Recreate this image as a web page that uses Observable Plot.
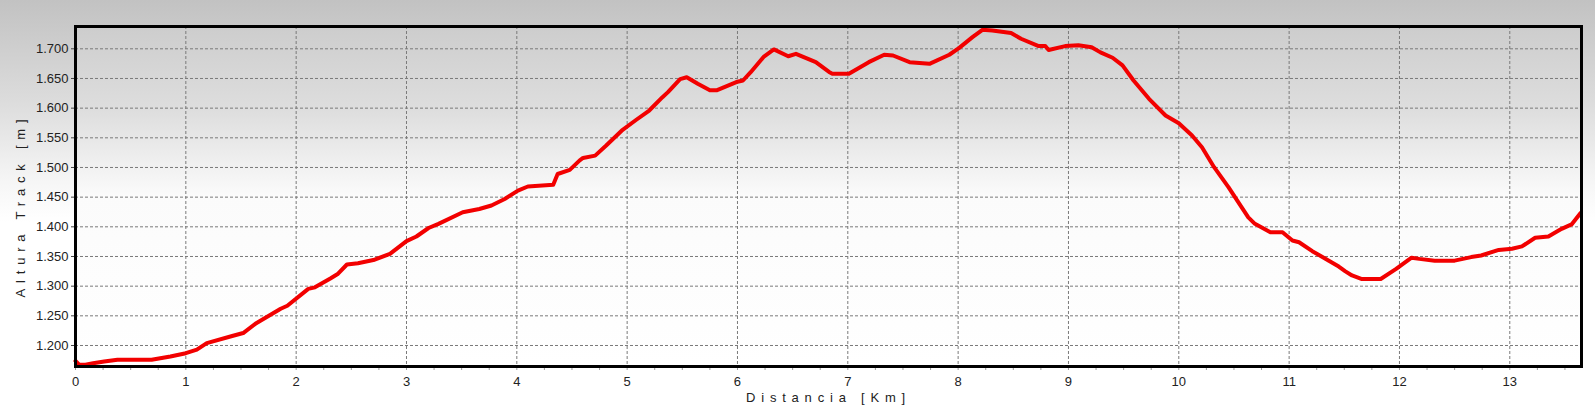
<!DOCTYPE html>
<html>
<head>
<meta charset="utf-8">
<script src="https://cdn.jsdelivr.net/npm/d3@7"></script>
<script src="https://cdn.jsdelivr.net/npm/@observablehq/plot@0.6"></script>
<style>
  html, body { margin: 0; padding: 0; }
  body {
    width: 1595px; height: 405px; overflow: hidden;
    background: linear-gradient(to bottom, #c2c2c2 0%, #dcdcdc 25%, #f6f6f6 45%, #ffffff 55%, #ffffff 100%);
  }
  #chart svg { display: block; }
</style>
</head>
<body>
<div id="chart"></div>
<script>
// Distance along the track (km)
const distKm = [0, 0.03, 0.09, 0.16, 0.26, 0.38, 0.69, 0.86, 1.00, 1.10, 1.19, 1.42, 1.52, 1.63, 1.86, 1.92,
  2.11, 2.17, 2.31, 2.38, 2.46, 2.56, 2.70, 2.85, 3.00, 3.09, 3.20, 3.29, 3.51, 3.66, 3.77, 3.89,
  4.01, 4.10, 4.33, 4.37, 4.48, 4.57, 4.60, 4.71, 4.81, 4.95, 5.08, 5.20, 5.32, 5.37, 5.48, 5.54,
  5.64, 5.75, 5.81, 5.99, 6.05, 6.12, 6.24, 6.33, 6.46, 6.53, 6.71, 6.83, 6.86, 7.01, 7.19, 7.33,
  7.41, 7.56, 7.74, 7.92, 8.01, 8.13, 8.22, 8.31, 8.48, 8.57, 8.73, 8.79, 8.82, 8.97, 9.09, 9.21,
  9.29, 9.40, 9.49, 9.59, 9.73, 9.88, 10.00, 10.12, 10.21, 10.32, 10.45, 10.53, 10.63, 10.69, 10.83, 10.94,
  11.03, 11.09, 11.21, 11.36, 11.45, 11.51, 11.57, 11.66, 11.83, 11.97, 12.11, 12.18, 12.32, 12.50, 12.65, 12.74,
  12.90, 13.02, 13.11, 13.23, 13.35, 13.47, 13.56, 13.64];
// Track altitude (m)
const altM = [1174, 1168, 1167.5, 1170, 1173, 1176, 1176, 1181.5, 1187, 1193, 1204, 1216, 1221, 1236.5, 1262, 1267,
  1295.5, 1298, 1313, 1321, 1336.5, 1338.7, 1344, 1354.5, 1376, 1383.7, 1398, 1405, 1424.6, 1430, 1436, 1447,
  1461, 1468, 1471, 1489, 1496, 1512, 1516, 1520, 1537, 1562, 1580, 1596, 1618.5, 1627, 1649, 1652,
  1641, 1630, 1630, 1644, 1646.6, 1660.6, 1687, 1699, 1687.5, 1691.6, 1677.5, 1661, 1658, 1658, 1677.5, 1690,
  1688.7, 1677.5, 1674.7, 1690, 1701.6, 1719.6, 1732, 1731, 1726.6, 1717, 1704.6, 1704.6, 1698, 1704.6, 1706, 1702.7,
  1694, 1685, 1672, 1646.6, 1615.7, 1587.6, 1574.6, 1554, 1534, 1500.5, 1466.8, 1444, 1416, 1405, 1391, 1391,
  1377, 1374, 1359, 1343, 1333, 1325, 1318, 1312, 1312, 1329, 1348, 1346, 1343, 1343, 1349, 1351.7,
  1361, 1363, 1367, 1381.5, 1383.7, 1396.6, 1404, 1423];

const xTicks = [0, 1, 2, 3, 4, 5, 6, 7, 8, 9, 10, 11, 12, 13];
const xMinorTicks = d3.range(0, 13.66, 0.25);
const yTicks = [1200, 1250, 1300, 1350, 1400, 1450, 1500, 1550, 1600, 1650, 1700];
const xDomain = [0, 13.65];
const yDomain = [1164.6, 1737.6];
const xLabel = "Distancia [Km]";
const yLabel = "Altura Track [m]";

const data = distKm.map((d, i) => ({d, h: altM[i]}));
const fmt = v => d3.format(",")(v).replace(",", ".");

const chart = Plot.plot({
  width: 1595,
  height: 405,
  marginLeft: 75,
  marginRight: 14,
  marginTop: 26,
  marginBottom: 39,
  style: {background: "transparent", fontFamily: "'Liberation Sans', Arial, sans-serif", fontSize: "13px", color: "#222"},
  x: {domain: xDomain, label: null},
  y: {domain: yDomain, label: null},
  marks: [
    Plot.frame({fill: "url(#plotbg)", stroke: "none"}),
    Plot.gridX(xTicks.filter(d => d > 0), {stroke: "#7a7a7a", strokeOpacity: 1, strokeDasharray: "3,2", strokeWidth: 1}),
    Plot.gridY(yTicks, {stroke: "#7a7a7a", strokeOpacity: 1, strokeDasharray: "3,2", strokeWidth: 1}),
    Plot.axisX(xMinorTicks, {tickSize: 4, text: null, stroke: "#9a9a9a", label: null}),
    Plot.axisX(xTicks, {tickSize: 0, tickPadding: 10, label: null, fill: "#222"}),
    Plot.axisY(yTicks, {tickSize: 4, tickPadding: 3, tickFormat: fmt, label: null, fill: "#222", stroke: "#444"}),
    Plot.line(data, {x: "d", y: "h", stroke: "#f20000", strokeWidth: 4, strokeLinejoin: "round", strokeLinecap: "round"}),
    Plot.frame({stroke: "#000", strokeWidth: 3}),
    Plot.text([xLabel], {frameAnchor: "bottom", dy: 31, textAnchor: "middle", lineAnchor: "middle", text: d => d, fill: "#222", fontSize: 13}),
    Plot.text([yLabel], {frameAnchor: "left", dx: -55, dy: 9, rotate: -90, textAnchor: "middle", lineAnchor: "middle", text: d => d, fill: "#222", fontSize: 13})
  ]
});

const svg = d3.select(chart);
const defs = svg.insert("defs", ":first-child");
const g = defs.append("linearGradient").attr("id", "plotbg").attr("x1", 0).attr("y1", 0).attr("x2", 0).attr("y2", 1);
g.append("stop").attr("offset", "0%").attr("stop-color", "#cdcdcd");
g.append("stop").attr("offset", "25%").attr("stop-color", "#dedede");
g.append("stop").attr("offset", "50%").attr("stop-color", "#fbfbfb");
g.append("stop").attr("offset", "100%").attr("stop-color", "#ffffff");

svg.selectAll("text")
  .filter(function() { return this.textContent === xLabel || this.textContent === yLabel; })
  .style("letter-spacing", "5.8px");

document.getElementById("chart").appendChild(chart);
</script>
</body>
</html>
